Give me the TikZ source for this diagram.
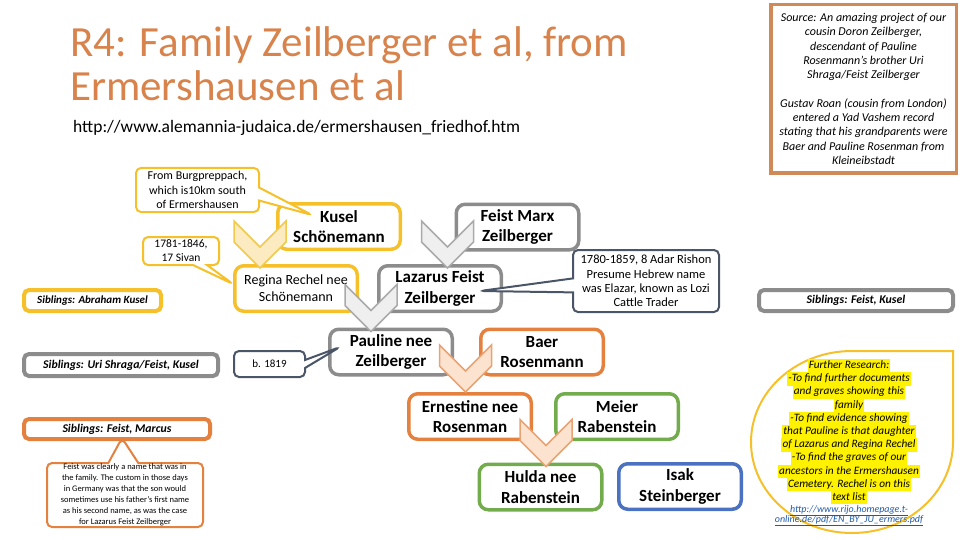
\documentclass[tikz,border=0pt]{standalone}
\usepackage{fontspec}
\setmainfont{Carlito}
\usepackage{xcolor}
\usetikzlibrary{shapes.callouts,calc}
\definecolor{ttlorange}{HTML}{D8834C}
\definecolor{srcorange}{HTML}{D08A58}
\definecolor{borange}{HTML}{E5813E}
\definecolor{byellow}{HTML}{F5C02A}
\definecolor{bgray}{HTML}{8C8C8C}
\definecolor{bgreen}{HTML}{72AC4D}
\definecolor{bblue}{HTML}{4A72C0}
\definecolor{slate}{HTML}{4A5568}
\definecolor{ychevfill}{HTML}{FCEBC0}
\definecolor{ychevdraw}{HTML}{F2C94C}
\definecolor{gchevfill}{HTML}{EFEFEF}
\definecolor{gchevdraw}{HTML}{AAAAAA}
\definecolor{ochevfill}{HTML}{FBE3D0}
\definecolor{ochevdraw}{HTML}{E9A373}
\definecolor{linkblue}{HTML}{1F5AA8}
\newcommand{\hilite}[1]{{\setlength{\fboxsep}{0pt}\colorbox{yellow}{\strut\hspace{1.2pt}#1\hspace{1.2pt}}}}
\newcommand{\weblink}[1]{{\fontsize{10}{10.5}\selectfont\color{linkblue}\underline{#1}}}
\newcommand{\chevdown}[3]{\draw[chevron, draw=#3, fill=#2] #1 ++(-26,-47) -- ++(26,26) -- ++(26,-26) -- ++(0,21) -- ++(-26,26) -- ++(-26,-26) -- cycle;}
\tikzset{
  famnode/.style={
    rectangle, rounded corners=9pt, draw=#1, line width=3.5pt, fill=white,
    minimum width=122.5pt, minimum height=45.5pt,
    align=center, inner sep=0pt, font=\fontsize{17}{20.5}\selectfont\bfseries
  },
  sibbox/.style={
    rectangle, rounded corners=5pt, draw=#1, line width=4pt, fill=white,
    inner sep=0pt, font=\fontsize{11.8}{13}\selectfont\bfseries\itshape
  },
  notecall/.style={
    rectangle callout, rounded corners=5pt, draw=#1, line width=2pt, fill=white,
    align=center, inner sep=0pt, font=\fontsize{11}{14.3}\selectfont
  },
  chevron/.style={line width=1.5pt, line join=miter},
}
\begin{document}
\begin{tikzpicture}[x=1pt, y=-1pt]
  \useasboundingbox (0,0) rectangle (960,540);
  \node (title) [anchor=north west, align=left, inner sep=0pt, text=ttlorange, font=\fontsize{43}{44.5}\selectfont] at (70,26) {R4: Family Zeilberger et al, from\\Ermershausen et al};
  \node (url) [anchor=base west, inner sep=0pt, font=\fontsize{17.5}{20}\selectfont] at (73,133) {http://www.alemannia-judaica.de/ermershausen\_friedhof.htm};
  \node (source) [draw=srcorange, line width=3.5pt, minimum width=185.5pt, minimum height=168.5pt, inner sep=0pt, align=center, font=\fontsize{12}{14.3}\selectfont\itshape] at (863.5,89) {Source: An amazing project of our\\cousin Doron Zeilberger,\\descendant of Pauline\\Rosenmann's brother Uri\\Shraga/Feist Zeilberger\\[14.3pt]Gustav Roan (cousin from London)\\entered a Yad Vashem record\\stating that his grandparents were\\Baer and Pauline Rosenman from\\Kleineibstadt};

  \node (kusel) [famnode=byellow] at (339,226.5) {Kusel\\Schönemann};
  \node (feist) [famnode=bgray] at (517.5,227) {Feist Marx\\Zeilberger};
  \node (regina) [famnode=byellow, font=\fontsize{14}{17}\selectfont] at (296,288.5) {Regina Rechel nee\\Schönemann};
  \node (lazarus) [famnode=bgray] at (440,288.5) {Lazarus Feist\\Zeilberger};
  \node (pauline) [famnode=bgray] at (391,352) {Pauline nee\\Zeilberger};
  \node (baer) [famnode=borange] at (542,352) {Baer\\Rosenmann};
  \node (ernestine) [famnode=borange] at (470,416.5) {Ernestine nee\\Rosenman};
  \node (meier) [famnode=bgreen] at (617,416.5) {Meier\\Rabenstein};
  \node (hulda) [famnode=bgreen] at (540.5,487) {Hulda nee\\Rabenstein};
  \node (isak) [famnode=bblue] at (680,486.5) {Isak\\Steinberger};

  \chevdown{($(regina.north)+(-36,4)$)}{ychevfill}{ychevdraw}
  \chevdown{($(lazarus.north)+(7.5,4)$)}{gchevfill}{gchevdraw}
  \chevdown{($(pauline.north)+(-20,4)$)}{gchevfill}{gchevdraw}
  \chevdown{($(ernestine.north)+(-4.5,0)$)}{ochevfill}{ochevdraw}
  \chevdown{($(hulda.north)+(5.5,4)$)}{ochevfill}{ochevdraw}

  \node (sibabraham) [sibbox=byellow, minimum width=137pt, minimum height=21pt, font=\fontsize{11}{13}\selectfont\bfseries\itshape] at (92.5,300.5) {Siblings: Abraham Kusel};
  \node (sibshraga) [sibbox=bgray, minimum width=194pt, minimum height=22pt] at (121,365) {Siblings: Uri Shraga/Feist, Kusel};
  \node (sibmarcus) [sibbox=borange, minimum width=186pt, minimum height=20pt] at (117,429) {Siblings: Feist, Marcus};
  \node (sibkusel) [sibbox=bgray, minimum width=194pt, minimum height=21pt] at (856,300.5) {Siblings: Feist, Kusel};

  \node (burg) [notecall=byellow, minimum width=123pt, minimum height=44pt, font=\fontsize{12}{14.5}\selectfont, callout pointer width=13pt, callout absolute pointer={($(kusel.west)+(36,-11.5)$)}] at (197.5,190) {From Burgpreppach,\\which is10km south\\of Ermershausen};
  \node (sivan) [notecall=byellow, minimum width=76pt, minimum height=28pt, font=\fontsize{11.5}{14}\selectfont, callout pointer width=14pt, callout absolute pointer={($(regina.west)+(0,-4.5)$)}] at (181,251) {1781-1846,\\17 Sivan};
  \node (born) [notecall=slate, minimum width=71pt, minimum height=26pt, callout pointer width=8pt, callout absolute pointer={($(pauline.west)+(12,-5)$)}] at (269.5,364) {b. 1819};
  \node (lozi) [notecall=slate, minimum width=146pt, minimum height=62pt, font=\fontsize{12.5}{14.3}\selectfont, callout pointer width=14pt, callout absolute pointer={($(lazarus.east)+(-23,2.5)$)}] at (646,281) {1780-1859, 8 Adar Rishon\\Presume Hebrew name\\was Elazar, known as Lozi\\Cattle Trader};
  \node (feistnote) [notecall=borange, minimum width=156pt, minimum height=64pt, font=\fontsize{8.5}{11}\selectfont, callout pointer width=30pt, callout absolute pointer={($(sibmarcus.south)+(5,-3)$)}] at (125,495) {Feist was clearly a name that was in\\the family. The custom in those days\\in Germany was that the son would\\sometimes use his father's first name\\as his second name, as was the case\\for Lazarus Feist Zeilberger};

  \draw[byellow, line width=2pt] (852,351) -- (953,351) -- (953,442) arc[start angle=0, end angle=270, x radius=101, y radius=91] -- cycle;
  \node (research) [anchor=north, align=center, inner sep=0pt, font=\fontsize{11.3}{13.2}\selectfont\itshape] at (849,359) {\hilite{Further Research:}\\\hilite{-To find further documents}\\\hilite{and graves showing this}\\\hilite{family}\\\hilite{-To find evidence showing}\\\hilite{that Pauline is that daughter}\\\hilite{of Lazarus and Regina Rechel}\\\hilite{-To find the graves of our}\\\hilite{ancestors in the Ermershausen}\\\hilite{Cemetery. Rechel is on this}\\\hilite{text list}\\[-1.5pt]\weblink{http://www.rijo.homepage.t-}\\[-3pt]\weblink{online.de/pdf/EN\_BY\_JU\_ermers.pdf}};
\end{tikzpicture}
\end{document}
